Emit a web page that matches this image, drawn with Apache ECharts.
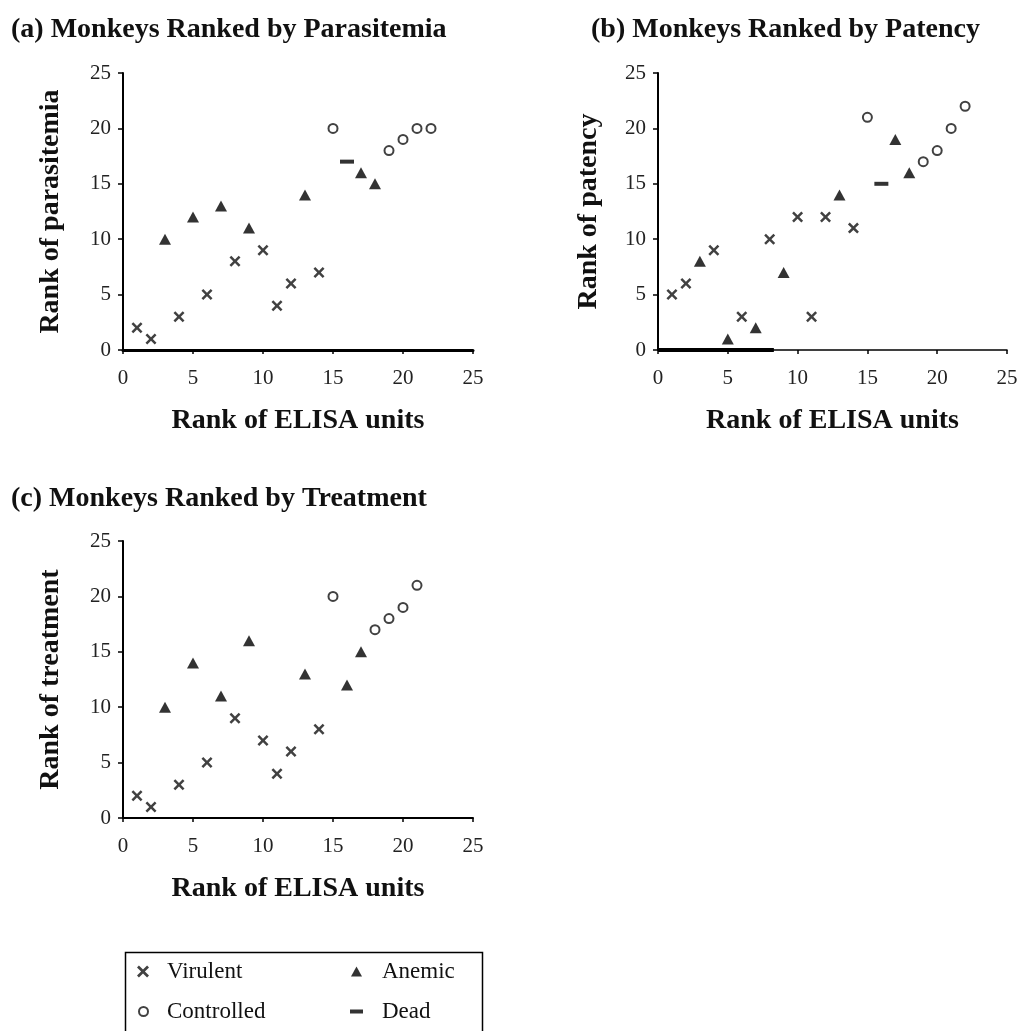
<!DOCTYPE html>
<html>
<head>
<meta charset="utf-8">
<script src="https://cdn.jsdelivr.net/npm/echarts@6/dist/echarts.min.js"></script>
<style>
  html, body { margin: 0; padding: 0; background: #fff; }
  #chart { width: 1031px; height: 1031px; }
</style>
</head>
<body>
<div id="chart"></div>
<script>
  // panel titles and axis names
  var panelTitles = ['(a) Monkeys Ranked by Parasitemia', '(b) Monkeys Ranked by Patency', '(c) Monkeys Ranked by Treatment'];
  var yNames = ['Rank of parasitemia', 'Rank of patency', 'Rank of treatment'];
  var xName = 'Rank of ELISA units';
  var groupNames = ['Virulent', 'Anemic', 'Controlled', 'Dead'];

  // (a) parasitemia  [ELISA rank, rank]
  var parasitemiaVirulent = [[1, 2], [2, 1], [4, 3], [6, 5], [8, 8], [10, 9], [11, 4], [12, 6], [14, 7]];
  var parasitemiaAnemic = [[3, 10], [5, 12], [7, 13], [9, 11], [13, 14], [17, 16], [18, 15]];
  var parasitemiaControlled = [[15, 20], [19, 18], [20, 19], [21, 20], [22, 20]];
  var parasitemiaDead = [[16, 17]];

  // (b) patency
  var patencyVirulent = [[1, 5], [2, 6], [4, 9], [6, 3], [8, 10], [10, 12], [11, 3], [12, 12], [14, 11]];
  var patencyAnemic = [[3, 8], [5, 1], [7, 2], [9, 7], [13, 14], [17, 19], [18, 16]];
  var patencyControlled = [[15, 21], [19, 17], [20, 18], [21, 20], [22, 22]];
  var patencyDead = [[16, 15]];
  var patencyBaseBar = [[0, 0], [8.3, 0]];

  // (c) treatment
  var treatmentVirulent = [[1, 2], [2, 1], [4, 3], [6, 5], [8, 9], [10, 7], [11, 4], [12, 6], [14, 8]];
  var treatmentAnemic = [[3, 10], [5, 14], [7, 11], [9, 16], [13, 13], [16, 12], [17, 15]];
  var treatmentControlled = [[15, 20], [18, 17], [19, 18], [20, 19], [21, 21]];

  var axisMin = 0, axisMax = 25, axisStep = 5;

  var xShape = 'path://M0,1.6L1.6,0L5,3.4L8.4,0L10,1.6L6.6,5L10,8.4L8.4,10L5,6.6L1.6,10L0,8.4L3.4,5Z';
  var serif = '"Liberation Serif", "DejaVu Serif", serif';

  var grids = [
      { left: 123, top: 73, width: 350, height: 277 },
      { left: 658, top: 73, width: 349, height: 277 },
      { left: 123, top: 541, width: 350, height: 277 }
  ];
  var xLineWidth = [3, 1.5, 2];
  var yNameGap = [58, 55, 58];

  function xAxisFor(i) {
      return {
          type: 'value', gridIndex: i, min: axisMin, max: axisMax, interval: axisStep,
          name: xName, nameLocation: 'middle', nameGap: 57,
          nameTextStyle: { fontFamily: serif, fontWeight: 'bold', fontSize: 28, color: '#111' },
          axisLine: { lineStyle: { color: '#000', width: xLineWidth[i] } },
          axisTick: { length: 4, lineStyle: { color: '#000', width: 1.5 } },
          axisLabel: { fontFamily: serif, fontSize: 21, color: '#222', margin: 18 },
          splitLine: { show: false }
      };
  }

  function yAxisFor(i) {
      return {
          type: 'value', gridIndex: i, min: axisMin, max: axisMax, interval: axisStep,
          name: yNames[i], nameLocation: 'middle', nameGap: yNameGap[i],
          nameTextStyle: { fontFamily: serif, fontWeight: 'bold', fontSize: 28, color: '#111' },
          axisLine: { lineStyle: { color: '#000', width: 2 } },
          axisTick: { length: 5, lineStyle: { color: '#000', width: 1.5 } },
          axisLabel: { fontFamily: serif, fontSize: 21, color: '#222', margin: 12 },
          splitLine: { show: false }
      };
  }

  function scatter(name, i, data) {
      var s = { name: name, type: 'scatter', xAxisIndex: i, yAxisIndex: i, data: data, clip: false, z: 5 };
      if (name === 'Virulent') {
          s.symbol = xShape; s.symbolSize = 11; s.itemStyle = { color: '#111' };
      } else if (name === 'Anemic') {
          s.symbol = 'triangle'; s.symbolSize = [12, 11]; s.itemStyle = { color: '#000' };
      } else if (name === 'Controlled') {
          s.symbol = 'emptyCircle'; s.symbolSize = 9; s.itemStyle = { color: '#111', borderWidth: 2.5 };
      } else {
          s.symbol = 'rect'; s.symbolSize = [14, 4]; s.itemStyle = { color: '#000' };
      }
      return s;
  }

  var series = [
      scatter('Virulent', 0, parasitemiaVirulent),
      scatter('Anemic', 0, parasitemiaAnemic),
      scatter('Controlled', 0, parasitemiaControlled),
      scatter('Dead', 0, parasitemiaDead),
      {
          name: 'axisBar', type: 'line', xAxisIndex: 1, yAxisIndex: 1, data: patencyBaseBar,
          showSymbol: false, clip: false, silent: true, z: 4,
          lineStyle: { color: '#000', width: 4 }
      },
      scatter('Virulent', 1, patencyVirulent),
      scatter('Anemic', 1, patencyAnemic),
      scatter('Controlled', 1, patencyControlled),
      scatter('Dead', 1, patencyDead),
      scatter('Virulent', 2, treatmentVirulent),
      scatter('Anemic', 2, treatmentAnemic),
      scatter('Controlled', 2, treatmentControlled)
  ];

  // one legend per entry so they sit in two columns inside the box
  var legendPos = [
      { left: 132, top: 955, w: 12, h: 12, gap: 13 },
      { left: 346, top: 955, w: 11, h: 10, gap: 15 },
      { left: 133, top: 995, w: 9, h: 9, gap: 14 },
      { left: 345, top: 995, w: 13, h: 4, gap: 14 }
  ];
  var legends = groupNames.map(function (g, k) {
      var p = legendPos[k];
      return {
          data: [g], left: p.left, top: p.top,
          itemWidth: p.w, itemHeight: p.h, itemGap: 0,
          selectedMode: false,
          textStyle: { fontFamily: serif, fontSize: 23, color: '#111', padding: [0, 0, 0, p.gap] }
      };
  });

  var option = {
      backgroundColor: '#fff',
      animation: false,
      title: panelTitles.map(function (t, i) {
          var pos = [[6, 11], [586, 11], [6, 480]][i];
          return {
              text: t, left: pos[0], top: pos[1],
              textStyle: { fontFamily: serif, fontWeight: 'bold', fontSize: 28, color: '#111' }
          };
      }),
      grid: grids,
      xAxis: [xAxisFor(0), xAxisFor(1), xAxisFor(2)],
      yAxis: [yAxisFor(0), yAxisFor(1), yAxisFor(2)],
      legend: legends,
      graphic: [{
          type: 'rect', left: 123, top: 950,
          shape: { width: 357, height: 90 },
          style: { fill: 'none', stroke: '#000', lineWidth: 1.5 }
      }],
      series: series
  };

  var chart = echarts.init(document.getElementById('chart'));
  chart.setOption(option);
</script>
</body>
</html>
